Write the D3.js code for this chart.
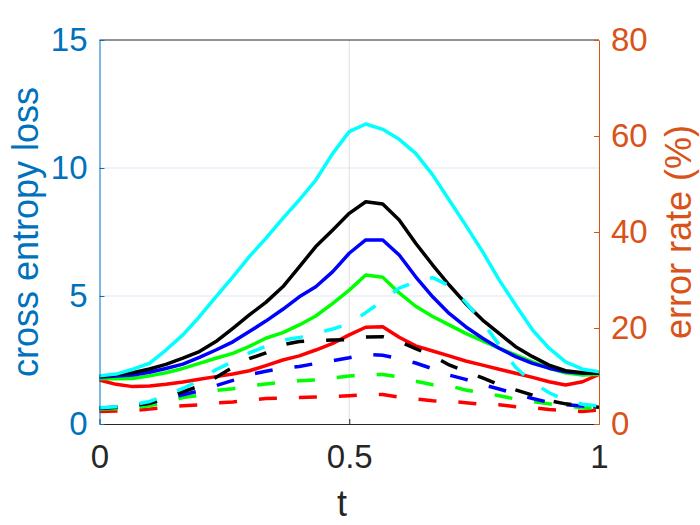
<!DOCTYPE html>
<html>
<head>
<meta charset="utf-8">
<script src="https://cdn.jsdelivr.net/npm/d3@7"></script>
<style>
  body { margin: 0; background: #fff; }
  svg { display: block; font-family: "Liberation Sans", Arial, Helvetica, sans-serif; }
</style>
</head>
<body>
<div id="chart"></div>
<script>
// sample positions along t
const tValues = [0, 0.033, 0.067, 0.1, 0.133, 0.167, 0.2, 0.233, 0.267, 0.3, 0.333,
  0.367, 0.4, 0.433, 0.467, 0.5, 0.533, 0.567, 0.6, 0.633, 0.667,
  0.7, 0.733, 0.767, 0.8, 0.833, 0.867, 0.9, 0.933, 0.967, 1];

// cross entropy loss (left axis, solid)
const lossRed   = [1.72,1.55,1.46,1.48,1.55,1.64,1.75,1.85,1.95,2.08,2.28,2.5,2.66,2.89,3.15,3.48,3.78,3.80,3.39,3.05,2.85,2.66,2.46,2.30,2.14,1.98,1.82,1.65,1.52,1.65,1.94];
const lossGreen = [1.78,1.77,1.78,1.88,2.0,2.17,2.37,2.57,2.76,3.03,3.35,3.57,3.87,4.22,4.71,5.23,5.82,5.73,5.12,4.6,4.2,3.87,3.54,3.25,2.96,2.70,2.43,2.18,2.0,1.91,1.94];
const lossBlue  = [1.83,1.87,1.91,2.02,2.17,2.34,2.6,2.89,3.21,3.61,4.02,4.48,4.97,5.36,5.95,6.67,7.19,7.19,6.60,5.75,4.97,4.32,3.80,3.35,2.96,2.63,2.37,2.18,2.04,1.98,1.98];
const lossBlack = [1.85,1.92,2.0,2.15,2.33,2.57,2.83,3.22,3.74,4.26,4.75,5.36,6.14,6.93,7.58,8.23,8.68,8.59,7.97,7.06,6.21,5.43,4.71,4.06,3.54,3.02,2.63,2.30,2.08,2.0,1.98];
const lossCyan  = [1.88,1.95,2.14,2.37,2.89,3.48,4.19,4.97,5.75,6.54,7.25,8.03,8.75,9.53,10.57,11.42,11.72,11.51,11.12,10.57,9.73,8.75,7.77,6.73,5.63,4.65,3.67,2.96,2.43,2.14,2.04];

// error rate in % (right axis, dashed)
const errRed   = [2.6,2.7,2.8,3.1,3.5,3.8,4.0,4.4,4.6,5.0,5.3,5.4,5.5,5.6,5.7,5.9,6.1,6.15,5.6,5.2,4.85,4.7,4.45,4.1,4.0,3.6,3.4,3.0,2.8,2.6,2.9];
const errGreen = [3.1,3.2,3.4,3.8,4.6,5.5,6.0,7.0,7.35,7.9,8.35,8.7,9.0,9.2,9.6,10.0,10.3,10.3,9.8,8.9,8.2,7.95,7.1,6.5,5.9,5.2,4.7,4.2,3.8,3.4,3.3];
const errBlue  = [3.3,3.5,3.8,4.3,5.2,6.1,6.9,8.0,9.1,10.3,11.0,11.6,12.0,12.6,13.2,13.8,14.5,14.3,13.6,12.7,11.5,10.2,9.3,8.2,7.3,6.3,5.3,4.5,4.0,3.75,3.6];
const errBlack = [3.3,3.5,3.9,4.3,5.5,6.7,7.9,9.7,11.8,13.6,14.8,16.5,17.2,17.4,17.5,17.6,18.1,18.2,17.2,15.7,14.2,12.3,11.0,9.6,8.2,7.1,6.0,4.9,4.2,3.8,3.5];
const errCyan  = [3.4,3.6,4.0,4.7,5.9,7.4,9.1,11.3,13.0,14.8,16.2,17.5,18.0,18.9,19.8,20.9,23.2,25.7,28.3,29.6,30.5,28.8,25.4,21.2,16.5,11.8,8.7,6.5,5.0,4.1,3.75];

const xTicks = [0, 0.5, 1];
const leftTicks = [0, 5, 10, 15];
const rightTicks = [0, 20, 40, 60, 80];

const lossSeries = [
  { color: "#ff0000", values: lossRed },
  { color: "#00ff00", values: lossGreen },
  { color: "#0000ff", values: lossBlue },
  { color: "#000000", values: lossBlack },
  { color: "#00ffff", values: lossCyan }
];
const errSeries = [
  { color: "#ff0000", values: errRed },
  { color: "#00ff00", values: errGreen },
  { color: "#0000ff", values: errBlue },
  { color: "#000000", values: errBlack },
  { color: "#00ffff", values: errCyan }
];

const width = 700, height = 525;
const plotLeft = 99.5, plotRight = 599, plotTop = 40, plotBottom = 424;
const blue = "#0072BD", orange = "#D95319", dark = "#262626";

const svg = d3.select("#chart").append("svg")
  .attr("width", width)
  .attr("height", height);

svg.append("rect").attr("width", width).attr("height", height).attr("fill", "#fff");

const x = d3.scaleLinear().domain([0, 1]).range([plotLeft, plotRight]);
const yL = d3.scaleLinear().domain([0, 15]).range([plotBottom, plotTop]);
const yR = d3.scaleLinear().domain([0, 80]).range([plotBottom, plotTop]);

// grid
svg.append("g").selectAll("line")
  .data(leftTicks.filter(d => d > 0 && d < 15))
  .join("line")
  .attr("x1", plotLeft).attr("x2", plotRight)
  .attr("y1", d => yL(d)).attr("y2", d => yL(d))
  .attr("stroke", "#dbe8f2").attr("stroke-width", 1);
svg.append("g").selectAll("line")
  .data(xTicks.filter(d => d > 0 && d < 1))
  .join("line")
  .attr("x1", d => x(d)).attr("x2", d => x(d))
  .attr("y1", plotTop).attr("y2", plotBottom)
  .attr("stroke", "#dfdfdf").attr("stroke-width", 1);

// lines
const lineL = d3.line().x((d, i) => x(tValues[i])).y(d => yL(d));
const lineR = d3.line().x((d, i) => x(tValues[i])).y(d => yR(d));

const plot = svg.append("g");
plot.selectAll("path.loss")
  .data(lossSeries)
  .join("path")
  .attr("class", "loss")
  .attr("d", d => lineL(d.values))
  .attr("fill", "none")
  .attr("stroke", d => d.color)
  .attr("stroke-width", 3.5)
  .attr("stroke-linejoin", "round");

plot.selectAll("path.err")
  .data(errSeries)
  .join("path")
  .attr("class", "err")
  .attr("d", d => lineR(d.values))
  .attr("fill", "none")
  .attr("stroke", d => d.color)
  .attr("stroke-width", 3.5)
  .attr("stroke-dasharray", "18,22");

// axes
function styleAxis(g, color) {
  g.select(".domain").attr("stroke", color).attr("stroke-width", 1);
  g.selectAll(".tick line").attr("stroke", color);
  g.selectAll(".tick text")
    .attr("fill", color)
    .attr("font-size", 33)
    .attr("font-family", "Liberation Sans, Arial, Helvetica, sans-serif");
}

svg.append("line")
  .attr("x1", plotLeft).attr("x2", plotRight).attr("y1", plotTop).attr("y2", plotTop)
  .attr("stroke", dark).attr("stroke-width", 1);

svg.append("g")
  .attr("transform", `translate(0,${plotBottom})`)
  .call(d3.axisBottom(x).tickValues(xTicks).tickFormat(d3.format("")).tickSize(-5).tickSizeOuter(0).tickPadding(21))
  .call(g => styleAxis(g, dark));

svg.append("g")
  .attr("transform", `translate(${plotLeft},0)`)
  .call(d3.axisLeft(yL).tickValues(leftTicks).tickSize(-5).tickSizeOuter(0).tickPadding(12))
  .call(g => styleAxis(g, blue));

svg.append("g")
  .attr("transform", `translate(${plotRight},0)`)
  .call(d3.axisRight(yR).tickValues(rightTicks).tickSize(-5).tickSizeOuter(0).tickPadding(12))
  .call(g => styleAxis(g, orange));

// labels
svg.append("text")
  .attr("transform", `translate(38,${(plotTop + plotBottom) / 2}) rotate(-90)`)
  .attr("text-anchor", "middle")
  .attr("font-size", 36)
  .attr("fill", blue)
  .text("cross entropy loss");

svg.append("text")
  .attr("transform", `translate(691,${(plotTop + plotBottom) / 2}) rotate(-90)`)
  .attr("text-anchor", "middle")
  .attr("font-size", 36)
  .attr("fill", orange)
  .text("error rate (%)");

svg.append("text")
  .attr("x", 342)
  .attr("y", 516)
  .attr("text-anchor", "middle")
  .attr("font-size", 36)
  .attr("fill", dark)
  .text("t");
</script>
</body>
</html>
